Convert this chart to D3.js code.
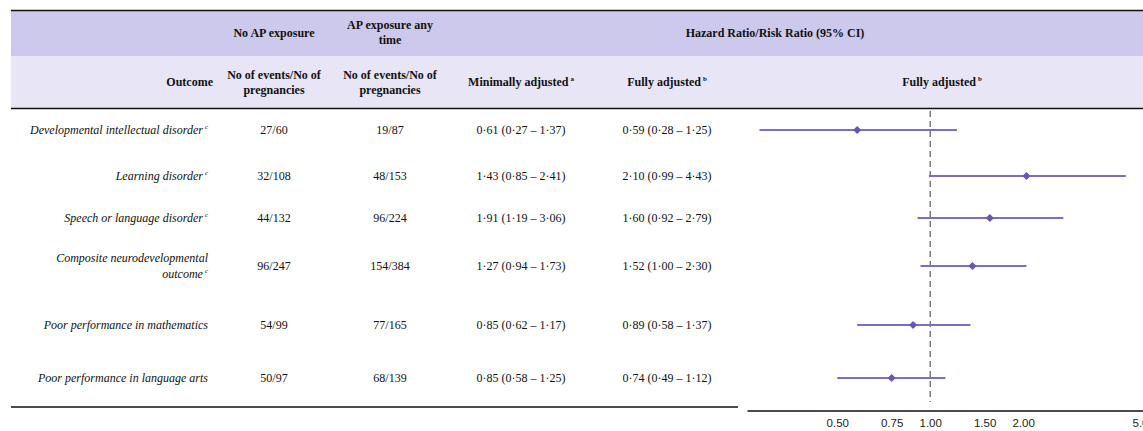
<!DOCTYPE html>
<html>
<head>
<meta charset="utf-8">
<script src="https://cdn.jsdelivr.net/npm/d3@7"></script>
<style>
  body { margin: 0; background: #fff; }
  svg text { font-family: "Liberation Serif", "Times New Roman", serif; fill: #111; }
  .tick text { font-family: "Liberation Sans", Arial, sans-serif; }
</style>
</head>
<body>
<svg id="chart"></svg>
<script>
// table data
const outcomeLines = [
  ["Developmental intellectual disorder"],
  ["Learning disorder"],
  ["Speech or language disorder"],
  ["Composite neurodevelopmental", "outcome"],
  ["Poor performance in mathematics"],
  ["Poor performance in language arts"]
];
const outcomeSup = ["c", "c", "c", "c", "", ""];
const noApEvents = ["27/60", "32/108", "44/132", "96/247", "54/99", "50/97"];
const apAnyEvents = ["19/87", "48/153", "96/224", "154/384", "77/165", "68/139"];
const minEst = [0.61, 1.43, 1.91, 1.27, 0.85, 0.85];
const minLo = [0.27, 0.85, 1.19, 0.94, 0.62, 0.58];
const minHi = [1.37, 2.41, 3.06, 1.73, 1.17, 1.25];
const fullEst = [0.59, 2.10, 1.60, 1.52, 0.89, 0.74];
const fullLo = [0.28, 0.99, 0.92, 1.00, 0.58, 0.49];
const fullHi = [1.25, 4.43, 2.79, 2.30, 1.37, 1.12];

// forest plot, as drawn in the figure
const plotEst = [0.58, 2.05, 1.56, 1.37, 0.88, 0.75];
const plotLo = [0.28, 0.99, 0.91, 0.93, 0.58, 0.50];
const plotHi = [1.22, 4.30, 2.70, 2.05, 1.35, 1.12];
const axisTicks = [0.5, 0.75, 1, 1.5, 2, 5];
const axisLabels = ["0.50", "0.75", "1.00", "1.50", "2.00", "5.0"];

// layout
const w = 1143, h = 431;
const left = 11;
const topLine = 10.5, headMid = 56, headBottom = 108.5, tableBottom = 407;
const rowStart = 130;
const rowSteps = [46, 42, 48, 59, 53];
const rowY = [rowStart, ...d3.cumsum(rowSteps).map(d => rowStart + d)];
const colOutcome = 208, colNoAp = 274, colApAny = 390, colMin = 521, colFull = 667;
const plotLeft = 747, axisY = 410.5;
const purple = "#7b6dc4", purpleDark = "#6a55b6";

const fmt = v => d3.format(".2f")(v).replace(".", "·");
const ci = (e, l, u) => `${fmt(e)} (${fmt(l)} – ${fmt(u)})`;

const svg = d3.select("#chart").attr("width", w).attr("height", h);

// header backgrounds
svg.append("rect").attr("x", left).attr("y", topLine).attr("width", w - left).attr("height", headMid - topLine)
   .style("fill", "#cdc9ec");
svg.append("rect").attr("x", left).attr("y", headMid).attr("width", w - left).attr("height", headBottom - headMid)
   .style("fill", "#e7e5f6");

// rules
svg.append("line").attr("x1", left).attr("x2", w).attr("y1", topLine).attr("y2", topLine)
   .style("stroke", "#111").style("stroke-width", 1.5);
svg.append("line").attr("x1", left).attr("x2", w).attr("y1", headBottom).attr("y2", headBottom)
   .style("stroke", "#111").style("stroke-width", 1.5);
svg.append("line").attr("x1", left).attr("x2", 738).attr("y1", tableBottom).attr("y2", tableBottom)
   .style("stroke", "#111").style("stroke-width", 1.5);

// header text
function headText(x, y, lines, sup) {
  const t = svg.append("text").attr("x", x).attr("y", y)
     .attr("text-anchor", "middle").style("font-weight", "bold").style("font-size", "12px");
  lines.forEach((l, i) => {
    t.append("tspan").attr("x", x).attr("dy", i === 0 ? 0 : 15).text(l);
  });
  if (sup) {
    t.append("tspan").attr("dy", -5).attr("dx", 2).style("font-size", "7px").text(sup);
  }
  return t;
}
headText(colNoAp, 37, ["No AP exposure"]);
headText(colApAny, 29, ["AP exposure any", "time"]);
headText(775, 37, ["Hazard Ratio/Risk Ratio (95% CI)"]);
headText(213, 86, ["Outcome"]).attr("text-anchor", "end").selectAll("tspan").attr("x", 213);
headText(colNoAp, 79, ["No of events/No of", "pregnancies"]);
headText(colApAny, 79, ["No of events/No of", "pregnancies"]);
headText(colMin, 86, ["Minimally adjusted"], "a");
headText(colFull, 86, ["Fully adjusted"], "b");
headText(942, 86, ["Fully adjusted"], "b");

// table rows
outcomeLines.forEach((lines, i) => {
  const y0 = rowY[i] + 4 - (lines.length - 1) * 8;
  lines.forEach((l, j) => {
    const t = svg.append("text").attr("x", colOutcome)
       .attr("y", y0 + j * 16).attr("text-anchor", "end")
       .style("font-style", "italic").style("font-size", "12px");
    t.append("tspan").text(l);
    if (j === lines.length - 1 && outcomeSup[i]) {
      t.append("tspan").attr("dx", 2).attr("dy", -5).style("font-size", "7px").text(outcomeSup[i]);
    }
  });
});

const cells = [
  [colNoAp, noApEvents],
  [colApAny, apAnyEvents],
  [colMin, minEst.map((e, i) => ci(e, minLo[i], minHi[i]))],
  [colFull, fullEst.map((e, i) => ci(e, fullLo[i], fullHi[i]))]
];
cells.forEach(([x, vals]) => {
  svg.append("g").selectAll("text")
     .data(vals)
     .enter()
     .append("text")
     .attr("x", x)
     .attr("y", (d, i) => rowY[i] + 4)
     .attr("text-anchor", "middle")
     .style("font-size", "12px")
     .text(d => d);
});

// forest plot
const xScale = d3.scaleLog().domain([0.255, 5]).range([plotLeft, 1146]);

svg.append("line")
   .attr("x1", xScale(1)).attr("x2", xScale(1))
   .attr("y1", 111).attr("y2", 402)
   .style("stroke", "#666").style("stroke-width", 1.3).style("stroke-dasharray", "6,4");

const rows = plotEst.map((e, i) => ({ est: e, lo: plotLo[i], hi: plotHi[i], y: rowY[i] }));

svg.append("g").selectAll("line")
   .data(rows)
   .enter()
   .append("line")
   .attr("x1", d => xScale(d.lo))
   .attr("x2", d => xScale(d.hi))
   .attr("y1", d => d.y)
   .attr("y2", d => d.y)
   .style("stroke", purple)
   .style("stroke-width", 2);

svg.append("g").selectAll("path")
   .data(rows)
   .enter()
   .append("path")
   .attr("d", d3.symbol().type(d3.symbolDiamond2).size(42))
   .attr("transform", d => `translate(${xScale(d.est)},${d.y})`)
   .style("fill", purpleDark);

const xAxis = d3.axisBottom(xScale)
   .tickValues(axisTicks)
   .tickFormat((d, i) => axisLabels[i])
   .tickSize(0)
   .tickPadding(8);

const gx = svg.append("g")
   .attr("transform", `translate(0, ${axisY})`)
   .call(xAxis);
gx.select(".domain").style("stroke", "#111").style("stroke-width", 1.6);
gx.selectAll(".tick text").style("font-size", "11.5px").style("fill", "#222")
   .attr("dx", d => d === 5 ? -6 : 0);
</script>
</body>
</html>
